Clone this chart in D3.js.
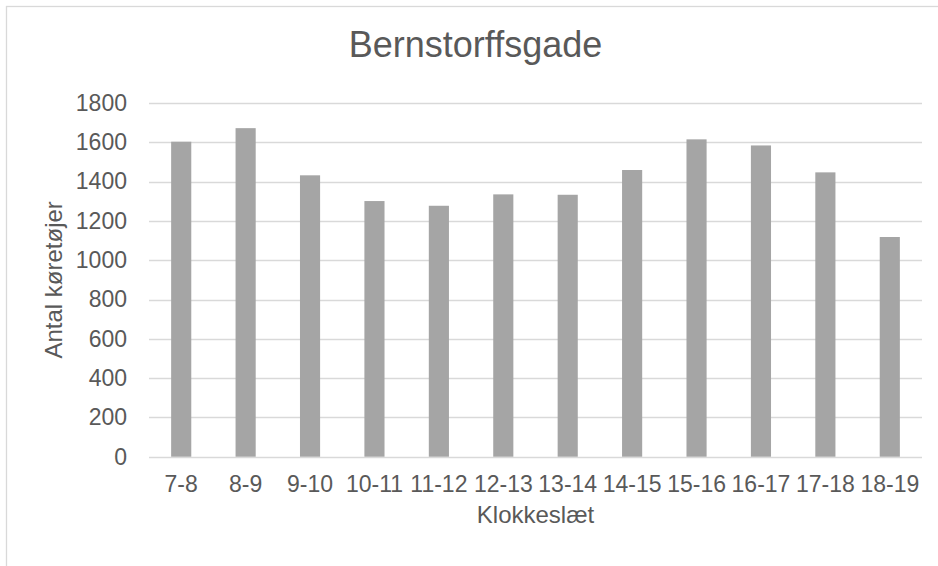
<!DOCTYPE html>
<html>
<head>
<meta charset="utf-8">
<script src="https://cdn.jsdelivr.net/npm/d3@7"></script>
<style>
  body { margin: 0; background: #fff; }
  text { font-family: "Liberation Sans", Arial, sans-serif; fill: #595959; }
</style>
</head>
<body>
<div id="chart"></div>
<script>
// data
var hours = ["7-8", "8-9", "9-10", "10-11", "11-12", "12-13", "13-14", "14-15", "15-16", "16-17", "17-18", "18-19"];
var counts = [1603, 1672, 1432, 1301, 1277, 1335, 1333, 1459, 1615, 1584, 1447, 1118];
var yTicks = [0, 200, 400, 600, 800, 1000, 1200, 1400, 1600, 1800];

var W = 938, H = 566;
var margin = {top: 103, right: 16, bottom: 109.3, left: 149},
    width = W - margin.left - margin.right,
    height = H - margin.top - margin.bottom;

var svg = d3.select("#chart")
  .append("svg")
    .attr("width", W)
    .attr("height", H);

// chart area border (runs off the right and bottom edge)
svg.append("rect")
    .attr("x", 6.5).attr("y", 6.5)
    .attr("width", W + 10).attr("height", H + 10)
    .attr("fill", "none")
    .attr("stroke", "#d9d9d9")
    .attr("stroke-width", 1.3);

var g = svg.append("g")
    .attr("transform", "translate(" + margin.left + "," + margin.top + ")");

var x = d3.scaleBand()
    .domain(hours)
    .range([0, width])
    .padding(0);

var y = d3.scaleLinear()
    .domain([0, 1800])
    .range([height, 0]);

// gridlines
g.append("g")
  .selectAll("line")
  .data(yTicks)
  .enter().append("line")
    .attr("x1", 0)
    .attr("x2", width)
    .attr("y1", function(d) { return Math.round(y(d)) + 0.5; })
    .attr("y2", function(d) { return Math.round(y(d)) + 0.5; })
    .attr("stroke", "#d9d9d9")
    .attr("stroke-width", 1.3);

// y labels
var yAxis = g.append("g")
    .call(d3.axisLeft(y).tickValues(yTicks).tickFormat(d3.format("d")).tickSize(0).tickPadding(22));
yAxis.select(".domain").remove();
yAxis.selectAll("text")
    .attr("font-size", "23px")
    .attr("fill", "#595959")
    .style("font-family", "'Liberation Sans', Arial, sans-serif");

// bars (gap width 220%)
var barW = x.bandwidth() / 3.2;
g.append("g")
  .selectAll("rect")
  .data(counts)
  .enter().append("rect")
    .attr("x", function(d, i) { return x(hours[i]) + (x.bandwidth() - barW) / 2; })
    .attr("y", function(d) { return y(d); })
    .attr("width", barW)
    .attr("height", function(d) { return height - y(d); })
    .attr("fill", "#a5a5a5");

// x labels
var xAxis = g.append("g")
    .attr("transform", "translate(0," + height + ")")
    .call(d3.axisBottom(x).tickSize(0).tickPadding(19));
xAxis.select(".domain").remove();
xAxis.selectAll("text")
    .attr("font-size", "23px")
    .attr("fill", "#595959")
    .style("font-family", "'Liberation Sans', Arial, sans-serif");

// titles
svg.append("text")
    .attr("x", 475.5)
    .attr("y", 57)
    .attr("text-anchor", "middle")
    .attr("font-size", "36px")
    .text("Bernstorffsgade");

svg.append("text")
    .attr("x", margin.left + width / 2)
    .attr("y", 523)
    .attr("text-anchor", "middle")
    .attr("font-size", "24px")
    .text("Klokkeslæt");

svg.append("text")
    .attr("transform", "translate(62," + (margin.top + height / 2) + ") rotate(-90)")
    .attr("text-anchor", "middle")
    .attr("font-size", "24px")
    .text("Antal køretøjer");
</script>
</body>
</html>
